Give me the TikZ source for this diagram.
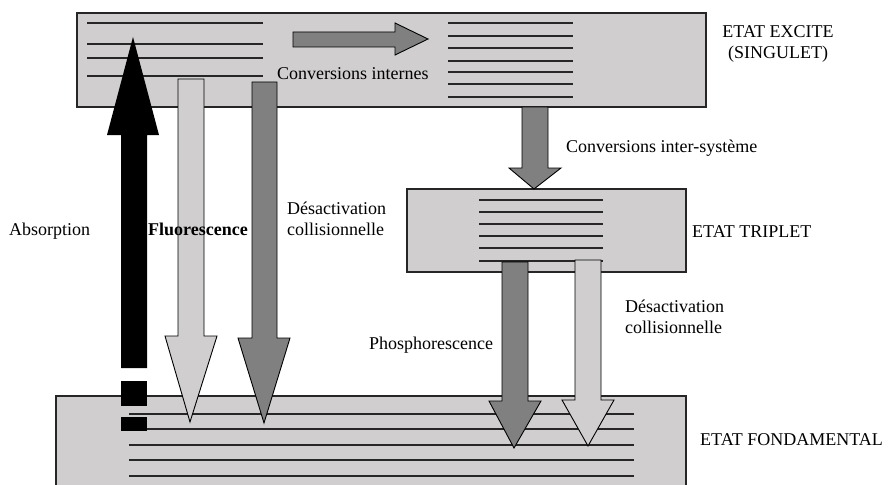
\documentclass[tikz,border=0pt]{standalone}
\usepackage{fontspec}
\setmainfont{Liberation Serif}
\definecolor{boxgray}{RGB}{208,206,207}
\definecolor{darkarrow}{RGB}{128,128,128}
\begin{document}
\begin{tikzpicture}[x=1pt,y=-1pt,
  levelbox/.style={draw=black!85,line width=1.2pt,fill=boxgray},
  level/.style={draw=black!85,line width=1.1pt},
  lightarrow/.style={draw=black,line width=0.9pt,fill=boxgray,line join=miter},
  darkarrowstyle/.style={draw=black,line width=0.9pt,fill=darkarrow,line join=miter},
  lbl/.style={inner sep=0pt,anchor=base west,font=\fontsize{18}{21}\selectfont,align=left}]
\useasboundingbox (0,0) rectangle (890,484);
\clip (0,0) rectangle (890,484);
\fill[white] (0,0) rectangle (890,484);
% top box (excited singlet)
\draw[levelbox] (77,13) rectangle (706,107);
\foreach \y in {23,44,58,76} \draw[level] (87,\y) -- (263,\y);
\foreach \y in {23,36,48,61,72,84,97} \draw[level] (448,\y) -- (573,\y);
% triplet box
\draw[levelbox] (407,189) rectangle (686,272);
\foreach \y in {200,212,224,236,248,261} \draw[level] (479,\y) -- (603,\y);
% ground state box
\draw[levelbox] (56,396) rectangle (686,500);
\foreach \y in {414,429,445,460,476} \draw[level] (129,\y) -- (634,\y);
% internal conversion arrow
\draw[darkarrowstyle] (293,32) -- (395,32) -- (395,23) -- (428,39) -- (395,55) -- (395,47) -- (293,47) -- cycle;
% absorption arrow
\fill[black] (121,368) -- (147,368) -- (147,135) -- (159,135) -- (133,37) -- (107,135) -- (121,135) -- cycle;
\fill[black] (121,381) rectangle (147,406);
\fill[black] (121,417) rectangle (147,431);
% fluorescence arrow
\draw[lightarrow] (178,79) -- (204,79) -- (204,336) -- (217,336) -- (190,422) -- (165,336) -- (178,336) -- cycle;
% collisional deactivation (singlet)
\draw[darkarrowstyle] (252,82) -- (277,82) -- (277,338) -- (290,338) -- (264,423) -- (238,338) -- (252,338) -- cycle;
% intersystem crossing
\draw[darkarrowstyle] (522,107) -- (548,107) -- (548,168) -- (561,168) -- (534,189) -- (509,168) -- (522,168) -- cycle;
% phosphorescence
\draw[darkarrowstyle] (502,262) -- (528,262) -- (528,401) -- (541,401) -- (514,448) -- (489,401) -- (502,401) -- cycle;
% collisional deactivation (triplet)
\draw[lightarrow] (575,260) -- (601,260) -- (601,400) -- (614,400) -- (588,446) -- (562,400) -- (575,400) -- cycle;
% labels
\node[lbl] (ci) at (277,80) {Conversions internes};
\node[lbl,anchor=base,align=center] (excite) at (778,59) {ETAT EXCITE\\(SINGULET)};
\node[lbl] (cis) at (566,152) {Conversions inter-système};
\node[lbl] (triplet) at (692,237) {ETAT TRIPLET};
\node[lbl] (abs) at (9,235) {Absorption};
\node[lbl,font=\fontsize{18}{21}\selectfont\bfseries] (fluo) at (148,235) {Fluorescence};
\node[lbl] (desact1) at (287,235) {Désactivation\\collisionnelle};
\node[lbl] (phos) at (369,349) {Phosphorescence};
\node[lbl] (desact2) at (625,333) {Désactivation\\collisionnelle};
\node[lbl] (fond) at (700,445) {ETAT FONDAMENTAL};
\end{tikzpicture}
\end{document}
